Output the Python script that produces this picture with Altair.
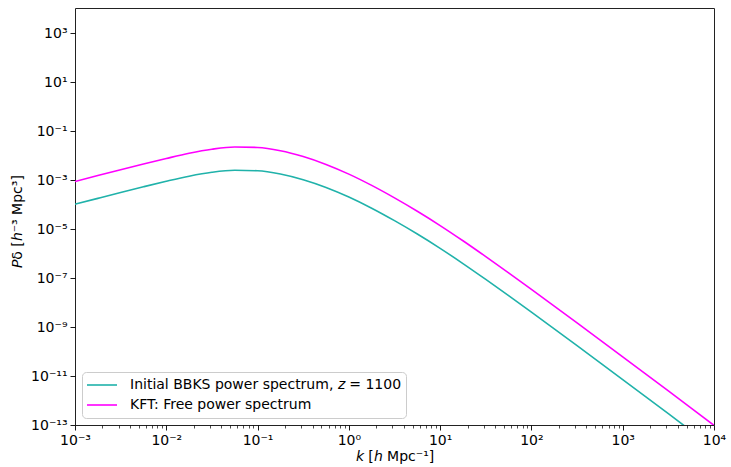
import altair as alt
import pandas as pd

# wavenumbers k [h/Mpc] at which the curves were read (quarter-decade steps)
k_vals = [1.0e-3, 1.778e-3, 3.162e-3, 5.623e-3,
          1.0e-2, 1.778e-2, 3.162e-2, 5.623e-2,
          1.0e-1, 1.778e-1, 3.162e-1, 5.623e-1,
          1.0, 1.778, 3.162, 5.623,
          10.0, 17.78, 31.62, 56.23,
          100.0, 177.8, 316.2, 562.3,
          1000.0, 1778.0, 3162.0, 5623.0, 10000.0]
# Initial BBKS power spectrum, z = 1100
p_bbks = [1.023e-4, 1.782e-4, 3.090e-4, 5.297e-4,
          8.892e-4, 1.432e-3, 2.070e-3, 2.495e-3,
          2.388e-3, 1.766e-3, 1.030e-3, 4.966e-4,
          2.023e-4, 7.079e-5, 2.193e-5, 6.237e-6,
          1.626e-6, 3.890e-7, 8.750e-8, 1.897e-8,
          4.018e-9, 8.395e-10, 1.734e-10, 3.540e-11,
          7.161e-12, 1.442e-12, 2.884e-13, 5.741e-14, 1.135e-14]
# KFT free power spectrum
p_kft = [8.710e-4, 1.517e-3, 2.630e-3, 4.508e-3,
         7.568e-3, 1.233e-2, 1.803e-2, 2.223e-2,
         2.128e-2, 1.574e-2, 9.078e-3, 4.325e-3,
         1.742e-3, 6.026e-4, 1.866e-4, 5.309e-5,
         1.384e-5, 3.311e-6, 7.447e-7, 1.614e-7,
         3.420e-8, 7.145e-9, 1.476e-9, 3.013e-10,
         6.095e-11, 1.227e-11, 2.455e-12, 4.887e-13, 9.661e-14]

series_names = ["Initial BBKS power spectrum, 𝘻 = 1100", "KFT: Free power spectrum"]
series_colors = ["#20b2aa", "#ff00ff"]

x_major = [1e-3, 1e-2, 1e-1, 1e0, 1e1, 1e2, 1e3, 1e4]
x_minor = [m * 10.0 ** e for e in range(-3, 4) for m in range(2, 10)]
y_major = [1e-13, 1e-11, 1e-9, 1e-7, 1e-5, 1e-3, 1e-1, 1e1, 1e3]

SUP = {"-": "⁻", "0": "⁰", "1": "¹", "2": "²", "3": "³", "4": "⁴",
       "5": "⁵", "6": "⁶", "7": "⁷", "8": "⁸", "9": "⁹"}


def pow_label_expr(exps):
    e = "round(log(datum.value)/LN10)"
    parts = []
    for n in exps:
        s = "10" + "".join(SUP[c] for c in str(n))
        parts.append(f"{e} == {n} ? '{s}' : ")
    return "".join(parts) + "''"


rows = []
for name, vals in zip(series_names, [p_bbks, p_kft]):
    for k, p in zip(k_vals, vals):
        rows.append({"k": k, "P": p, "series": name})
df = pd.DataFrame(rows)

FONT = "DejaVu Sans"
xscale = alt.Scale(type="log", domain=[1e-3, 1e4], nice=False)
yscale = alt.Scale(type="log", domain=[1e-13, 1.05e4], nice=False)

lines = alt.Chart(df).mark_line(strokeWidth=1.6, interpolate="monotone", clip=True).encode(
    x=alt.X("k:Q", scale=xscale,
            axis=alt.Axis(values=x_major, labelExpr=pow_label_expr(range(-3, 5)),
                          orient="bottom", grid=False, domain=False,
                          tickSize=5, tickColor="black", tickWidth=0.9,
                          labelFont=FONT, labelFontSize=14, labelColor="black",
                          labelPadding=3, labelFlush=False,
                          title="𝘬 [𝘩 Mpc⁻¹]", titleFont=FONT, titleFontSize=14,
                          titleFontWeight="normal", titleColor="black",
                          titleY=35, titleBaseline="alphabetic")),
    y=alt.Y("P:Q", scale=yscale,
            axis=alt.Axis(values=y_major, labelExpr=pow_label_expr(range(-13, 4, 2)),
                          orient="left", grid=False, domain=False,
                          tickSize=5, tickColor="black", tickWidth=0.9,
                          labelFont=FONT, labelFontSize=14, labelColor="black",
                          labelPadding=3, labelFlush=False,
                          title="𝘗δ [𝘩⁻³ Mpc³]", titleFont=FONT, titleFontSize=14,
                          titleFontWeight="normal", titleColor="black",
                          titleX=-58, titleY=213, titleAngle=270,
                          titleAlign="center", titleBaseline="middle")),
    color=alt.Color("series:N", sort=series_names,
                    scale=alt.Scale(domain=series_names, range=series_colors),
                    legend=alt.Legend(title=None, orient="bottom-left", offset=7,
                                      symbolType="stroke", symbolSize=900,
                                      symbolStrokeWidth=1.6, labelFont=FONT,
                                      labelFontSize=14, labelColor="black",
                                      labelOffset=12, rowPadding=2, padding=4,
                                      clipHeight=18,
                                      fillColor="white", strokeColor="#cccccc",
                                      cornerRadius=4, labelLimit=400)),
)

minor = alt.Chart(df).mark_line(opacity=0).encode(
    x=alt.X("k:Q", scale=xscale,
            axis=alt.Axis(values=x_minor, orient="bottom", labels=False, domain=False,
                          grid=False, tickSize=3, tickColor="black", tickWidth=0.7,
                          title=None)),
    y=alt.Y("P:Q", scale=yscale, axis=None),
    detail="series:N",
)

chart = alt.layer(lines, minor).resolve_axis(x="independent", y="independent").properties(
    width=639, height=417,
    autosize=alt.AutoSizeParams(type="none"),
    padding={"left": 75, "top": 8, "right": 17, "bottom": 42},
    background="white",
).configure_view(stroke="#222222", strokeWidth=1)

chart.save("out.html", embed_options={"renderer": "svg", "actions": False})
